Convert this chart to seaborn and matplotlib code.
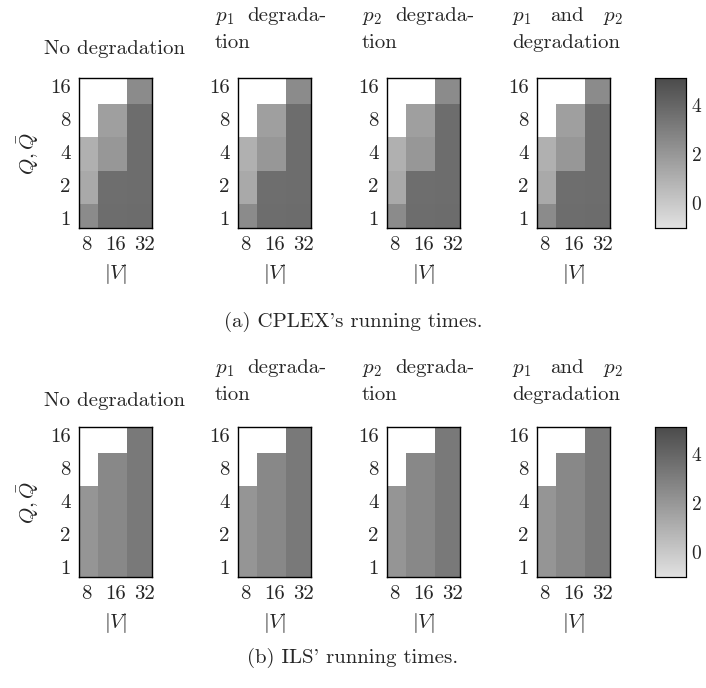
import numpy as np
import pandas as pd
import matplotlib
matplotlib.use("Agg")
import matplotlib.pyplot as plt
import seaborn as sns
from matplotlib.colors import LinearSegmentedColormap

sns.set_theme(style="white")
plt.rcParams["font.family"] = ["cmr10"]
plt.rcParams["mathtext.fontset"] = "cm"
plt.rcParams["axes.formatter.use_mathtext"] = True
plt.rcParams["axes.unicode_minus"] = False

# ---------------- data ----------------
V_LABELS = ["8", "16", "32"]                 # |V|
Q_LABELS = ["16", "8", "4", "2", "1"]        # Q, Q-bar (top to bottom)
CBAR_TICKS = [0, 2, 4]
VMIN, VMAX = -1.0, 5.1

nan = np.nan
# CPLEX running times (log scale), rows Q=16..1, cols |V|=8,16,32
cplex_none = [[nan, nan, 2.5], [nan, 1.7, 3.7], [1.0, 2.0, 3.7], [1.3, 3.65, 3.7], [2.5, 3.7, 3.75]]
cplex_p1 = [[nan, nan, 2.5], [nan, 1.7, 3.7], [1.0, 2.0, 3.7], [1.3, 3.65, 3.7], [2.5, 3.7, 3.75]]
cplex_p2 = [[nan, nan, 2.5], [nan, 1.7, 3.7], [1.0, 2.0, 3.7], [1.3, 3.65, 3.7], [2.5, 3.7, 3.75]]
cplex_p12 = [[nan, nan, 2.5], [nan, 1.7, 3.7], [1.0, 2.0, 3.7], [1.3, 3.65, 3.7], [2.5, 3.7, 3.75]]
# ILS running times
ils_none = [[nan, nan, 3.2], [nan, 2.6, 3.2], [2.1, 2.6, 3.2], [2.1, 2.6, 3.2], [2.1, 2.6, 3.2]]
ils_p1 = [[nan, nan, 3.2], [nan, 2.6, 3.2], [2.1, 2.6, 3.2], [2.1, 2.6, 3.2], [2.1, 2.6, 3.2]]
ils_p2 = [[nan, nan, 3.2], [nan, 2.6, 3.2], [2.1, 2.6, 3.2], [2.1, 2.6, 3.2], [2.1, 2.6, 3.2]]
ils_p12 = [[nan, nan, 3.2], [nan, 2.6, 3.2], [2.1, 2.6, 3.2], [2.1, 2.6, 3.2], [2.1, 2.6, 3.2]]

ROWS = [[cplex_none, cplex_p1, cplex_p2, cplex_p12],
        [ils_none, ils_p1, ils_p2, ils_p12]]
CAPTIONS = ["(a) CPLEX's running times.", "(b) ILS' running times."]

# ---------------- layout ----------------
W, H = 706, 688
FS = 15
fig = plt.figure(figsize=(W / 100, H / 100), dpi=100)
fig.patch.set_facecolor("white")


def rect(x0, y0, x1, y1):
    return [x0 / W, 1 - y1 / H, (x1 - x0) / W, (y1 - y0) / H]


def ftext(x, y, s, **kw):
    kw.setdefault("fontsize", FS)
    fig.text(x / W, 1 - y / H, s, **kw)


cmap = LinearSegmentedColormap.from_list("grays", ["#e1e1e1", "#4b4b4b"])
LEFTS = [79, 238, 387, 537]
AX_W = 73
TOPS = [78, 427]
AX_H = 150
ROW_OFF = [0, 352]

for r, row in enumerate(ROWS):
    top = TOPS[r]
    cax = fig.add_axes(rect(655, top, 686, top + AX_H))
    for j, vals in enumerate(row):
        ax = fig.add_axes(rect(LEFTS[j], top, LEFTS[j] + AX_W, top + AX_H))
        df = pd.DataFrame(vals, index=Q_LABELS, columns=V_LABELS)
        sns.heatmap(df, ax=ax, cmap=cmap, vmin=VMIN, vmax=VMAX,
                    cbar=(j == 3), cbar_ax=cax if j == 3 else None)
        ax.set_xlim(0.34, 2.84)
        ax.set_ylim(4.74, 0.2)
        ax.set_xticks([0.59, 1.59, 2.59])
        ax.set_xticklabels(V_LABELS, rotation=0, fontsize=FS)
        ax.set_yticks([0.5, 1.5, 2.5, 3.5, 4.5])
        ax.set_yticklabels(Q_LABELS, rotation=0, fontsize=FS)
        ax.tick_params(length=0, pad=6)
        for sp in ax.spines.values():
            sp.set_visible(True)
            sp.set_color("black")
            sp.set_linewidth(1.0)
        ax.set_xlabel(r"$|V|$", fontsize=FS)
        ax.xaxis.label.set_va("center")
        ax.xaxis.set_label_coords(0.5, -46 / AX_H)
        if j == 0:
            ax.set_ylabel(r"$Q,\bar{Q}$", fontsize=FS)
            ax.yaxis.label.set_va("center")
            ax.yaxis.set_label_coords(-51 / AX_W, 0.5)
        else:
            ax.set_ylabel("")

    cax.set_ylim(VMIN, VMAX)
    cax.set_yticks(CBAR_TICKS)
    cax.set_yticklabels([str(t) for t in CBAR_TICKS], fontsize=FS - 1)
    cax.tick_params(length=0, pad=4)
    for sp in cax.spines.values():
        sp.set_visible(True)
        sp.set_color("black")
        sp.set_linewidth(0.8)

    off = ROW_OFF[r]
    # panel titles
    ftext(115, 54 + off, "No degradation", ha="center", va="baseline")
    ftext(215, 21 + off, r"$p_1$", ha="left", va="baseline")
    ftext(327, 21 + off, "degrada-", ha="right", va="baseline")
    ftext(215, 48 + off, "tion", ha="left", va="baseline")
    ftext(362, 21 + off, r"$p_2$", ha="left", va="baseline")
    ftext(474, 21 + off, "degrada-", ha="right", va="baseline")
    ftext(362, 48 + off, "tion", ha="left", va="baseline")
    ftext(512, 21 + off, r"$p_1$", ha="left", va="baseline")
    ftext(567, 21 + off, "and", ha="center", va="baseline")
    ftext(623, 21 + off, r"$p_2$", ha="right", va="baseline")
    ftext(512, 48 + off, "degradation", ha="left", va="baseline")
    # caption
    ftext(353, 322 + (658 - 322) * r, CAPTIONS[r], ha="center", va="center")

fig.savefig("out.png", dpi=100, facecolor="white")
